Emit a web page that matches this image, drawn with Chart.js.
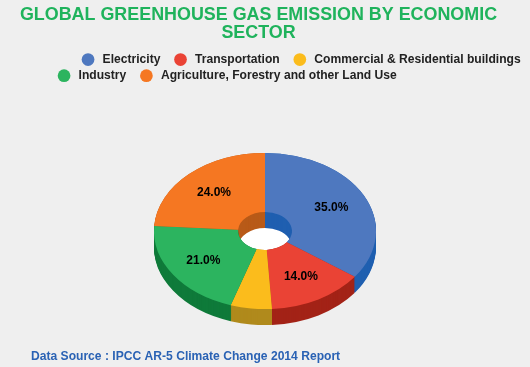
<!DOCTYPE html>
<html>
<head>
<meta charset="utf-8">
<script src="https://cdn.jsdelivr.net/npm/chart.js@4/dist/chart.umd.min.js"></script>
<style>
  html, body { margin: 0; padding: 0; background: #efefef; }
  canvas { display: block; filter: blur(0.45px); }
</style>
</head>
<body>
<canvas id="myChart1" width="530" height="367"></canvas>
<script>
const titleLines = ["GLOBAL GREENHOUSE GAS EMISSION BY ECONOMIC", "SECTOR"];
const sourceText = "Data Source : IPCC AR-5 Climate Change 2014 Report";
const sectors = ["Electricity", "Transportation", "Commercial & Residential buildings", "Industry", "Agriculture, Forestry and other Land Use"];
const shares = [35, 14, 6, 21, 24];
const faceColors = ["#4e78bf", "#ea4335", "#fbbc1c", "#2cb45f", "#f57722"];
const sideColors = ["#1f5fb0", "#a32317", "#b08a1c", "#0f7a3a", "#b85a18"];

// look of the tilted ring
const squash = 0.703;
const faceCenterY = 231;
const depth = 16;
const labelPush = 1.08;
const legendRowStarts = [82, 58];
const sourceLeft = 31;
const titleRightCut = 13;

const tilted3d = {
    id: "tilted3d",
    afterLayout(chart) {
        // legend rows do not share one centre in the picture
        chart.legend.lineWidths = legendRowStarts.map(x => chart.width - x);
        // source line sits indented, title a bit left of the middle
        chart.boxes.find(b => b.options && b.options.text === sourceText).left = sourceLeft;
        chart.boxes.find(b => b.options && b.options.text === titleLines).right = chart.width - titleRightCut;
    },
    beforeDatasetsDraw(chart) {
        const ctx = chart.ctx;
        const arcs = chart.getDatasetMeta(0).data;
        ctx.save();
        ctx.translate(arcs[0].x, faceCenterY);
        ctx.scale(1, squash);
        ctx.translate(-arcs[0].x, -arcs[0].y);
        // hole
        ctx.fillStyle = "#ffffff";
        ctx.beginPath();
        ctx.arc(arcs[0].x, arcs[0].y, arcs[0].innerRadius + 1, 0, Math.PI * 2);
        ctx.fill();
        // side wall: same arcs, stacked downward
        for (let d = depth; d >= 0; d--) {
            ctx.save();
            ctx.translate(0, d / squash);
            arcs.forEach((arc, i) => {
                const side = Object.create(arc);
                side.options = Object.assign({}, arc.options, { backgroundColor: sideColors[i], borderWidth: 0 });
                side.draw(ctx);
            });
            ctx.restore();
        }
    },
    afterDatasetsDraw(chart) {
        const ctx = chart.ctx;
        ctx.restore();
        const arcs = chart.getDatasetMeta(0).data;
        ctx.save();
        ctx.font = "bold 12px 'Liberation Sans'";
        ctx.fillStyle = "#000000";
        ctx.textAlign = "center";
        ctx.textBaseline = "middle";
        arcs.forEach((arc, i) => {
            if (shares[i] < 10) return;
            const p = arc.getCenterPoint();
            const x = arc.x + (p.x - arc.x) * labelPush;
            const y = faceCenterY + (p.y - arc.y) * labelPush * squash;
            ctx.fillText(shares[i].toFixed(1) + "%", x, y);
        });
        ctx.restore();
    }
};

new Chart(document.getElementById("myChart1").getContext("2d"), {
    type: "doughnut",
    plugins: [tilted3d],
    data: {
        labels: sectors,
        datasets: [{
            data: shares,
            backgroundColor: faceColors,
            borderWidth: 0,
            radius: 111,
            cutout: "24.3%",
            clip: false,
        }],
    },
    options: {
        responsive: false,
        animation: false,
        plugins: {
            tooltip: { enabled: false },
            title: {
                display: true,
                text: titleLines,
                color: "#1fb35c",
                font: { family: "'Liberation Sans'", size: 17.9, weight: "bold", lineHeight: 1.02 },
                padding: { top: 6, bottom: 7 },
            },
            subtitle: {
                display: true,
                position: "bottom",
                align: "start",
                text: sourceText,
                color: "#2a62b4",
                font: { family: "'Liberation Sans'", size: 12.1, weight: "bold" },
                padding: { top: 0, bottom: 3 },
            },
            legend: {
                position: "top",
                align: "end",
                labels: {
                    usePointStyle: true,
                    pointStyle: "circle",
                    boxHeight: 9,
                    padding: 4,
                    color: "#222222",
                    font: { family: "'Liberation Sans'", size: 12.1, weight: "bold" },
                    generateLabels(chart) {
                        return Chart.overrides.doughnut.plugins.legend.labels.generateLabels(chart).map((item, i) => {
                            // a little more room after the dot, and a wider gap before the next item
                            item.text = "\u2009" + item.text;
                            if (i !== 2 && i !== 4) item.text = item.text + "\u00a0\u00a0\u00a0";
                            return item;
                        });
                    },
                },
            },
        },
    },
});
</script>
</body>
</html>
